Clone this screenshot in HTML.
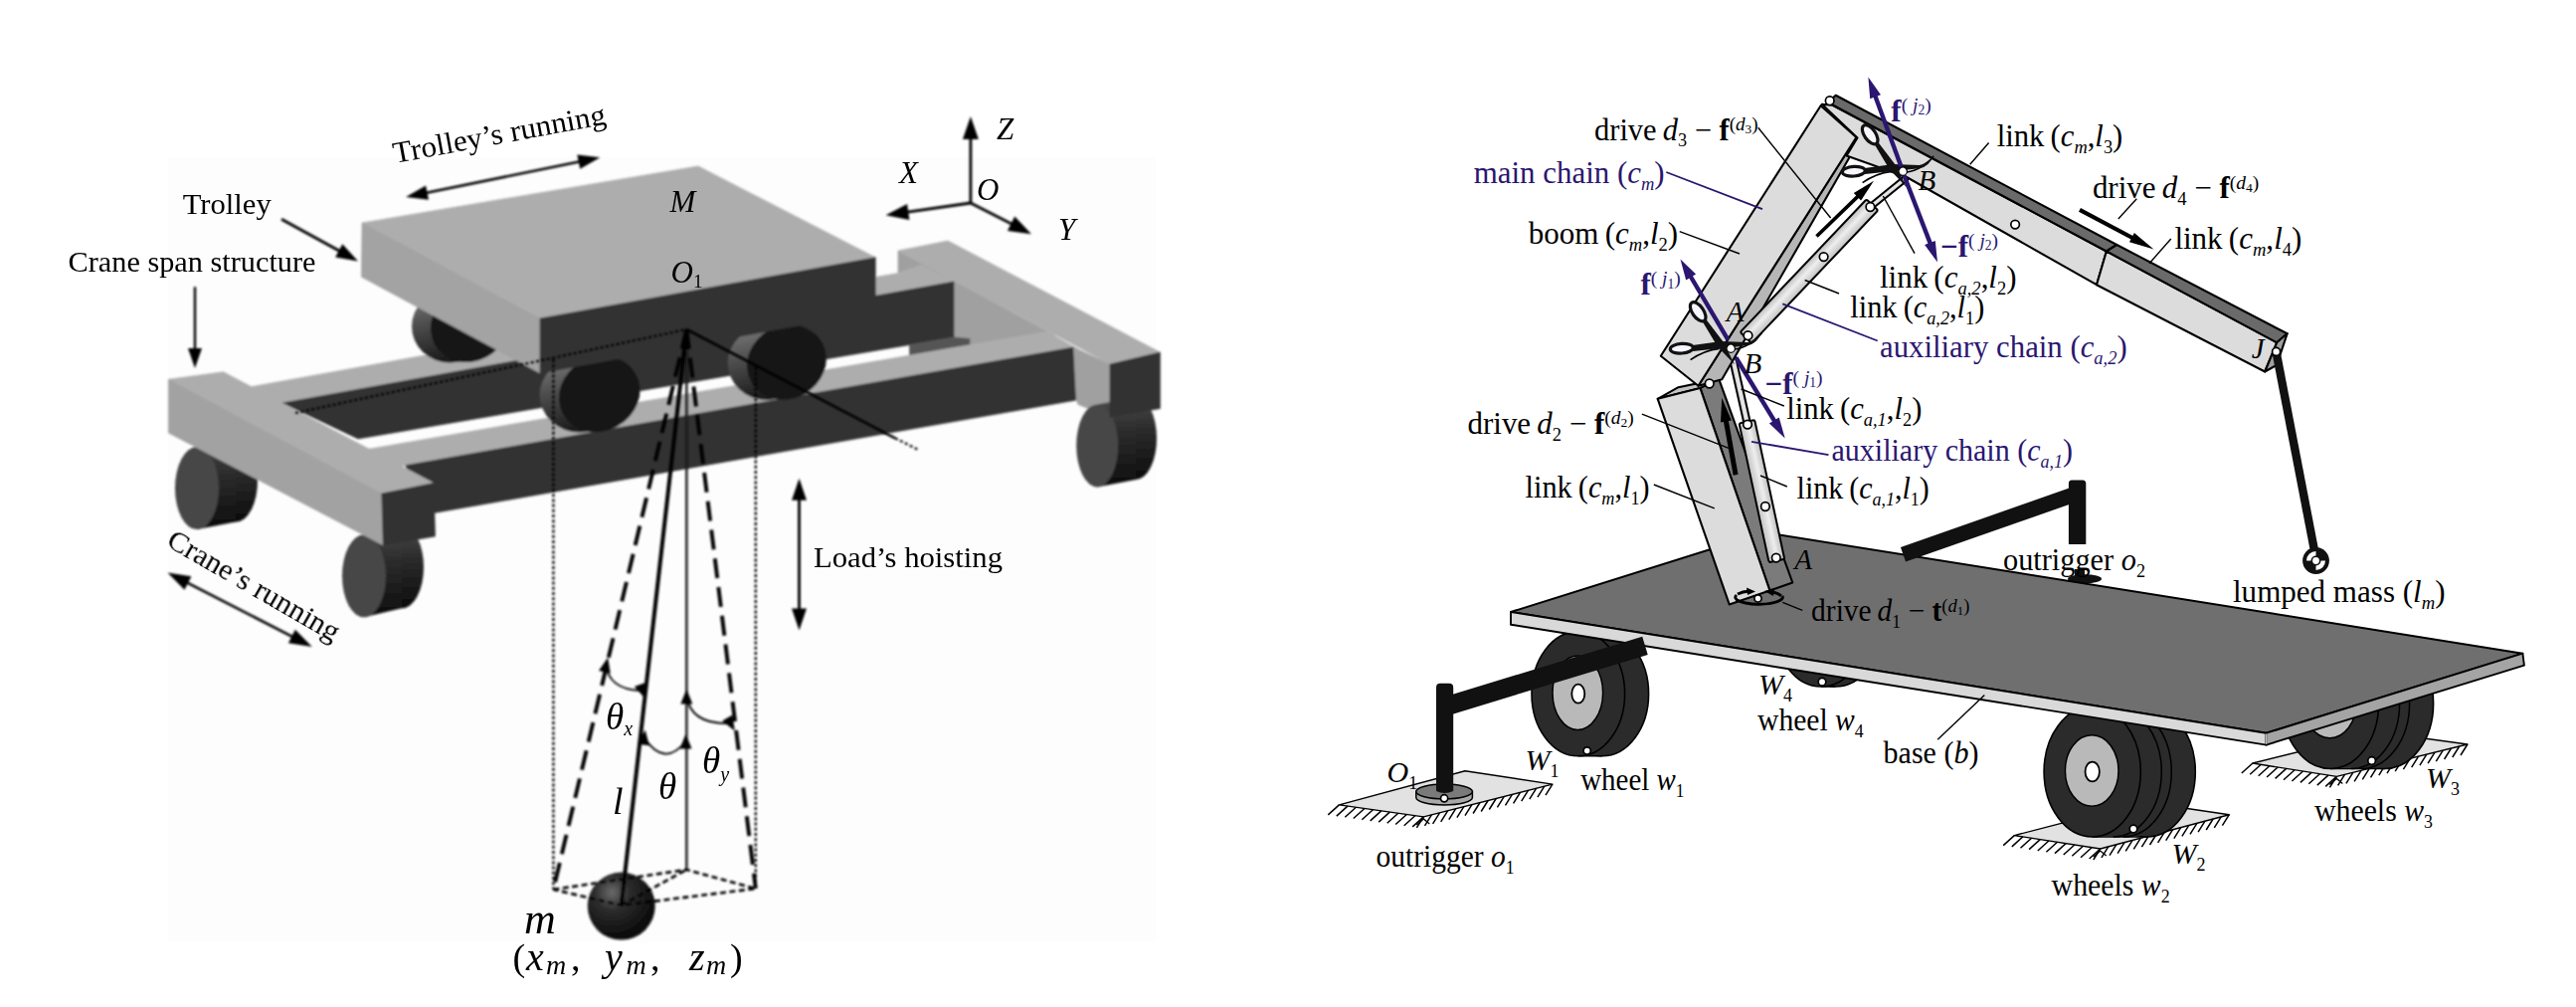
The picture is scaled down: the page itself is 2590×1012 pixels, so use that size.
<!DOCTYPE html>
<html><head><meta charset="utf-8"><title>Crane diagrams</title>
<style>
html,body{margin:0;padding:0;background:#fff;}
body{width:2590px;height:1012px;overflow:hidden;font-family:"Liberation Serif",serif;}
svg{display:block;}
</style></head><body>
<svg width="2590" height="1012" viewBox="0 0 2590 1012">
<defs>
<filter id="soft" x="-5%" y="-5%" width="110%" height="110%"><feGaussianBlur stdDeviation="0.8"/></filter>
<filter id="soft2" x="-5%" y="-5%" width="110%" height="110%"><feGaussianBlur stdDeviation="0.55"/></filter>
<linearGradient id="cyl" x1="0" y1="0" x2="0" y2="1"><stop offset="0" stop-color="#4c4c4c"/><stop offset="0.35" stop-color="#2e2e2e"/><stop offset="1" stop-color="#0c0c0c"/></linearGradient>
<linearGradient id="twb" x1="0" y1="0" x2="0.25" y2="1"><stop offset="0" stop-color="#808080"/><stop offset="0.45" stop-color="#505050"/><stop offset="1" stop-color="#1c1c1c"/></linearGradient>
<radialGradient id="ball" cx="0.36" cy="0.3" r="0.75"><stop offset="0" stop-color="#6a6a6a"/><stop offset="0.35" stop-color="#2c2c2c"/><stop offset="1" stop-color="#050505"/></radialGradient>
<linearGradient id="tubeg" x1="0" y1="0" x2="0" y2="1"><stop offset="0" stop-color="#bdbdbd"/><stop offset="0.45" stop-color="#eeeeee"/><stop offset="1" stop-color="#c2c2c2"/></linearGradient>
</defs>
<rect width="2590" height="1012" fill="#fff"/>
<rect x="169" y="158" width="993" height="789" fill="#fdfdfd"/>
<g id="leftfig" filter="url(#soft)">
<polygon points="903.0,252.0 1060.0,336.5 1060.0,342.0 972.0,356.0 958.7,345.0 958.7,283.0 926.0,266.8 903.0,274.5" fill="#a0a0a0" stroke="#a0a0a0" stroke-width="0.7" />
<polygon points="903.0,252.0 953.0,242.0 1166.4,354.0 1116.0,366.0" fill="#adadad" stroke="#adadad" stroke-width="0.7" />
<polygon points="248.0,389.5 560.0,333.0 560.0,356.0 279.0,406.0" fill="#adadad" stroke="#adadad" stroke-width="0.7" />
<polygon points="880.0,278.5 903.0,274.5 926.0,266.8 958.7,283.0 880.0,297.0" fill="#adadad" stroke="#adadad" stroke-width="0.7" />
<polygon points="284.0,405.0 959.0,283.0 959.0,339.0 360.0,441.0" fill="#333333" stroke="#333333" stroke-width="0.7" />
<polygon points="914.5,346.7 959.0,339.0 975.0,340.5 975.0,346.5 914.5,357.2" fill="#555555" stroke="#555555" stroke-width="0.7" />
<polygon points="365.5,452.2 1053.0,333.2 1084.0,351.0 402.8,468.6" fill="#adadad" stroke="#adadad" stroke-width="0.7" />
<polygon points="407.7,467.7 1079.6,349.0 1082.5,402.0 437.5,515.3 425.0,510.0" fill="#333333" stroke="#333333" stroke-width="0.7" />
<polygon points="1079.6,349.0 1116.0,366.0 1116.0,419.0 1084.0,406.5 1082.3,402.3" fill="#a0a0a0" stroke="#a0a0a0" stroke-width="0.7" />
<ellipse cx="1142" cy="440.4" rx="21" ry="41.5" fill="url(#cyl)"/>
<polygon points="1103.2,406.4 1142.0,398.9 1142.0,481.9 1103.2,489.4" fill="url(#cyl)" />
<ellipse cx="1103.2" cy="447.9" rx="21" ry="41.5" fill="#464646"/>
<polygon points="1116.0,366.0 1166.4,354.0 1166.4,410.6 1116.0,419.0" fill="#333333" stroke="#333333" stroke-width="0.7" />
<ellipse cx="237" cy="483.1" rx="22" ry="41.5" fill="url(#cyl)"/>
<polygon points="198.0,449.1 237.0,441.6 237.0,524.6 198.0,532.1" fill="url(#cyl)" />
<ellipse cx="198" cy="490.6" rx="22" ry="41.5" fill="#464646"/>
<ellipse cx="404" cy="569.8" rx="22" ry="41.5" fill="url(#cyl)"/>
<polygon points="366.0,537.3 404.0,528.3 404.0,611.3 366.0,620.3" fill="url(#cyl)" />
<ellipse cx="366" cy="578.8" rx="22" ry="41.5" fill="#464646"/>
<polygon points="169.4,381.3 224.5,373.8 436.0,485.5 383.8,496.0" fill="#adadad" stroke="#adadad" stroke-width="0.7" />
<polygon points="169.4,381.3 383.8,496.0 385.3,548.0 169.4,435.0" fill="#a2a2a2" stroke="#a2a2a2" stroke-width="0.7" />
<polygon points="383.8,496.0 436.0,485.5 437.5,539.0 385.3,548.0" fill="#333333" stroke="#333333" stroke-width="0.7" />
<ellipse cx="452" cy="328" rx="38" ry="36.5" fill="url(#twb)"/>
<rect x="452" y="292" width="20" height="71.5" fill="#171717"/>
<ellipse cx="472" cy="327" rx="39.8" ry="36.2" transform="rotate(-28 472 327)" fill="#171717"/>
<ellipse cx="582.7" cy="397" rx="40" ry="37.5" fill="url(#twb)"/>
<rect x="582.7" y="360" width="20" height="73.5" fill="#171717"/>
<ellipse cx="602.7" cy="396" rx="41.8" ry="37.2" transform="rotate(-28 602.7 396)" fill="#171717"/>
<ellipse cx="770.9" cy="365" rx="39" ry="37.0" fill="url(#twb)"/>
<rect x="770.9" y="328.5" width="20" height="72.5" fill="#171717"/>
<ellipse cx="790.9" cy="364" rx="40.8" ry="36.7" transform="rotate(-28 790.9 364)" fill="#171717"/>
<polygon points="364.0,224.0 702.0,167.0 880.2,258.7 543.0,320.0" fill="#adadad" stroke="#adadad" stroke-width="0.7" />
<polygon points="364.0,224.0 543.0,320.0 543.0,375.0 363.4,278.3" fill="#a3a3a3" stroke="#a3a3a3" stroke-width="0.7" />
<polygon points="543.0,320.0 880.2,258.7 880.2,313.0 543.0,375.0" fill="#333333" stroke="#333333" stroke-width="0.7" />
</g>
<g id="leftlines" filter="url(#soft)">
<line x1="283.0" y1="220.3" x2="344.6" y2="254.0" stroke="#000" stroke-width="2.8"/><polygon points="360.0,262.5 337.1,258.5 344.3,245.3" fill="#000"/>
<line x1="196.0" y1="288.3" x2="196.0" y2="354.0" stroke="#000" stroke-width="2.4"/><polygon points="196.0,370.0 189.0,350.0 203.0,350.0" fill="#000"/>
<line x1="425.2" y1="194.5" x2="586.1" y2="161.7" stroke="#000" stroke-width="2.6"/><polygon points="603.3,158.2 583.2,169.7 580.3,155.5" fill="#000"/><polygon points="408.0,198.0 431.0,200.7 428.1,186.5" fill="#000"/>
<line x1="184.9" y1="583.9" x2="297.4" y2="641.6" stroke="#000" stroke-width="2.6"/><polygon points="313.8,650.0 289.9,646.2 296.8,632.8" fill="#000"/><polygon points="168.5,575.5 185.5,592.7 192.4,579.3" fill="#000"/>
<line x1="803.5" y1="498.3" x2="803.5" y2="616.0" stroke="#000" stroke-width="2.8"/><polygon points="803.5,633.6 796.0,611.6 811.0,611.6" fill="#000"/><polygon points="803.5,480.7 796.0,502.7 811.0,502.7" fill="#000"/>
<line x1="975.9" y1="204.0" x2="975.9" y2="135.4" stroke="#000" stroke-width="2.8"/><polygon points="975.9,117.0 983.9,140.0 967.9,140.0" fill="#000"/>
<line x1="975.9" y1="204.0" x2="908.7" y2="213.7" stroke="#000" stroke-width="2.8"/><polygon points="890.5,216.3 912.1,205.1 914.4,220.9" fill="#000"/>
<line x1="975.9" y1="204.0" x2="1020.6" y2="226.8" stroke="#000" stroke-width="2.8"/><polygon points="1037.0,235.2 1012.9,231.9 1020.2,217.6" fill="#000"/>
<circle cx="624.7" cy="910.6" r="34" fill="url(#ball)"/>
<line x1="297" y1="415" x2="690.3" y2="331" stroke="#000" stroke-width="2.2" stroke-dasharray="3 2.5"/>
<line x1="690.3" y1="331" x2="900" y2="440.3" stroke="#000" stroke-width="2.6"/>
<line x1="900" y1="440.3" x2="922.6" y2="451.7" stroke="#000" stroke-width="2.2" stroke-dasharray="3 2.5"/>
<line x1="556.4" y1="361" x2="556.4" y2="894" stroke="#000" stroke-width="2.4" stroke-dasharray="3 2.2"/>
<line x1="759.8" y1="369" x2="759.8" y2="893" stroke="#000" stroke-width="2.4" stroke-dasharray="3 2.2"/>
<line x1="690.3" y1="331" x2="690.3" y2="874" stroke="#1a1a1a" stroke-width="2.4"/>
<line x1="690.3" y1="331" x2="624.7" y2="909.8" stroke="#000" stroke-width="4"/>
<line x1="690.3" y1="331" x2="556.4" y2="893.9" stroke="#000" stroke-width="3.9" stroke-dasharray="20 9"/>
<line x1="690.3" y1="331" x2="759.8" y2="893" stroke="#000" stroke-width="3.9" stroke-dasharray="20 9"/>
<path d="M556.4,893.9 L690.3,874 L759.8,893 L624.7,909.8 Z M624.7,909.8 L690.3,874" fill="none" stroke="#000" stroke-width="2.6" stroke-dasharray="6 3.5"/>
<path d="M608.9,667 Q612,693 644,694" fill="none" stroke="#000" stroke-width="1.8"/>
<path d="M647.4,741 Q668,772 689.5,745" fill="none" stroke="#000" stroke-width="1.8"/>
<path d="M690.3,700 Q695,728 733,727" fill="none" stroke="#000" stroke-width="1.8"/>
<polygon points="611.2,660.7 613.7,676.7 602.0,674.0" fill="#000"/>
<polygon points="648.6,702.0 637.8,690.0 649.1,685.9" fill="#000"/>
<polygon points="648.7,733.6 652.8,749.2 640.9,747.7" fill="#000"/>
<polygon points="689.5,737.5 695.5,752.5 683.5,752.5" fill="#000"/>
<polygon points="690.3,692.5 696.3,707.5 684.3,707.5" fill="#000"/>
<polygon points="738.8,734.5 726.1,724.5 736.4,718.5" fill="#000"/>
</g>
<g id="lefttext" font-family="Liberation Serif, serif" fill="#000" filter="url(#soft2)">
<text x="0" y="0" font-size="30" textLength="217" lengthAdjust="spacingAndGlyphs" transform="translate(397,164) rotate(-10.5)">Trolley’s running</text>
<text x="183.7" y="214.8" font-size="30" textLength="89" lengthAdjust="spacingAndGlyphs" >Trolley</text>
<text x="68.5" y="273.4" font-size="30" textLength="249" lengthAdjust="spacingAndGlyphs" >Crane span structure</text>
<text x="0" y="0" font-size="28.5" textLength="195" lengthAdjust="spacingAndGlyphs" transform="translate(166,548) rotate(30)">Crane’s running</text>
<text x="818" y="570" font-size="30" textLength="190" lengthAdjust="spacingAndGlyphs" >Load’s hoisting</text>
<text x="1002" y="140.4" font-size="31" font-style="italic">Z</text>
<text x="904" y="184" font-size="31" font-style="italic">X</text>
<text x="982" y="200.5" font-size="31" font-style="italic">O</text>
<text x="1064" y="241" font-size="31" font-style="italic">Y</text>
<text x="673.5" y="213" font-size="31" font-style="italic">M</text>
<text x="674.5" y="284" font-size="31" font-style="italic">O<tspan font-size="19" dy="5" font-style="normal">1</tspan></text>
<text x="609" y="733" font-size="37" font-style="italic">θ<tspan font-size="20" dy="6">x</tspan></text>
<text x="662" y="802.5" font-size="37" font-style="italic">θ</text>
<text x="706" y="777" font-size="37" font-style="italic">θ<tspan font-size="20" dy="8">y</tspan></text>
<text x="616" y="818" font-size="38" font-style="italic">l</text>
<text x="527" y="937.6" font-size="44" font-style="italic">m</text>
<text x="515.5" y="975" font-size="38" >(</text>
<text x="529" y="975" font-size="40" font-style="italic">x</text>
<text x="549" y="979" font-size="28" font-style="italic">m</text>
<text x="574" y="975" font-size="38" >,</text>
<text x="608" y="975" font-size="40" font-style="italic">y</text>
<text x="629.5" y="979" font-size="28" font-style="italic">m</text>
<text x="654" y="975" font-size="38" >,</text>
<text x="693" y="975" font-size="40" font-style="italic">z</text>
<text x="710" y="979" font-size="28" font-style="italic">m</text>
<text x="734" y="975" font-size="38" >)</text>
</g>
<g id="rightfig">
<polygon points="2264.9,767.0 2391.5,735.7 2480.9,748.0 2349.3,780.4" fill="#e2e2e2" stroke="#000" stroke-width="1.4" stroke-linejoin="round" /><path d="M2264.9,767.0l-11.1,10.0M2273.3,768.3l-11.1,10.0M2281.8,769.7l-11.1,10.0M2290.2,771.0l-11.1,10.0M2298.7,772.4l-11.1,10.0M2307.1,773.7l-11.1,10.0M2315.5,775.0l-11.1,10.0M2324.0,776.4l-11.1,10.0M2332.4,777.7l-11.1,10.0M2340.9,779.1l-11.1,10.0M2349.3,780.4l-11.1,10.0" stroke="#000" stroke-width="1.5" fill="none"/><path d="M2349.3,780.4l-6.9,11.0M2357.5,778.4l-6.9,11.0M2365.8,776.4l-6.9,11.0M2374.0,774.3l-6.9,11.0M2382.2,772.3l-6.9,11.0M2390.4,770.3l-6.9,11.0M2398.7,768.2l-6.9,11.0M2406.9,766.2l-6.9,11.0M2415.1,764.2l-6.9,11.0M2423.3,762.2l-6.9,11.0M2431.6,760.1l-6.9,11.0M2439.8,758.1l-6.9,11.0M2448.0,756.1l-6.9,11.0M2456.2,754.1l-6.9,11.0M2464.5,752.0l-6.9,11.0M2472.7,750.0l-6.9,11.0M2480.9,748.0l-6.9,11.0" stroke="#000" stroke-width="1.5" fill="none"/><path d="M2342.3,788.4 L2349.3,782.4 L2355.3,787.4" stroke="#000" stroke-width="1.3" fill="none"/>
<ellipse cx="2398.0" cy="707.0" rx="48.6" ry="65.5" fill="#2b2b2b" stroke="#000" stroke-width="1.6"/><rect x="2343.0" y="642.1" width="55.0" height="129.8" fill="#2b2b2b"/><path d="M2343.0,641.5 L2398.0,641.5 M2343.0,772.5 L2398.0,772.5" stroke="#000" stroke-width="1.6"/><path d="M2374.0,641.5 A48.6,65.5 0 0 1 2374.0,772.5" fill="none" stroke="#000" stroke-width="1.5"/><path d="M2364.0,641.5 A48.6,65.5 0 0 1 2364.0,772.5" fill="none" stroke="#000" stroke-width="1.5"/><ellipse cx="2343.0" cy="707.0" rx="48.6" ry="65.5" fill="#2b2b2b" stroke="#000" stroke-width="1.6"/><ellipse cx="2342.5" cy="706.0" rx="26.8" ry="35.7" fill="#b9b9b9" stroke="#000" stroke-width="1.5"/><ellipse cx="2343.0" cy="707.0" rx="7.2" ry="9.8" fill="#fff" stroke="#000" stroke-width="1.8"/>
<circle cx="2384.6" cy="764.5" r="3.8" fill="#fff" stroke="#000" stroke-width="1.7"/>
<polygon points="2025.3,839.6 2155.0,806.0 2241.3,818.7 2111.7,853.0" fill="#e2e2e2" stroke="#000" stroke-width="1.4" stroke-linejoin="round" /><path d="M2025.3,839.6l-11.1,10.0M2033.9,840.9l-11.1,10.0M2042.6,842.3l-11.1,10.0M2051.2,843.6l-11.1,10.0M2059.9,845.0l-11.1,10.0M2068.5,846.3l-11.1,10.0M2077.1,847.6l-11.1,10.0M2085.8,849.0l-11.1,10.0M2094.4,850.3l-11.1,10.0M2103.1,851.7l-11.1,10.0M2111.7,853.0l-11.1,10.0" stroke="#000" stroke-width="1.5" fill="none"/><path d="M2111.7,853.0l-6.9,11.0M2119.8,850.9l-6.9,11.0M2127.9,848.7l-6.9,11.0M2136.0,846.6l-6.9,11.0M2144.1,844.4l-6.9,11.0M2152.2,842.3l-6.9,11.0M2160.3,840.1l-6.9,11.0M2168.4,838.0l-6.9,11.0M2176.5,835.9l-6.9,11.0M2184.6,833.7l-6.9,11.0M2192.7,831.6l-6.9,11.0M2200.8,829.4l-6.9,11.0M2208.9,827.3l-6.9,11.0M2217.0,825.1l-6.9,11.0M2225.1,823.0l-6.9,11.0M2233.2,820.8l-6.9,11.0M2241.3,818.7l-6.9,11.0" stroke="#000" stroke-width="1.5" fill="none"/><path d="M2104.7,861.0 L2111.7,855.0 L2117.7,860.0" stroke="#000" stroke-width="1.3" fill="none"/>
<ellipse cx="2158.7" cy="775.5" rx="48.6" ry="65.5" fill="#2b2b2b" stroke="#000" stroke-width="1.6"/><rect x="2103.7" y="710.6" width="55.0" height="129.8" fill="#2b2b2b"/><path d="M2103.7,710.0 L2158.7,710.0 M2103.7,841.0 L2158.7,841.0" stroke="#000" stroke-width="1.6"/><path d="M2134.7,710.0 A48.6,65.5 0 0 1 2134.7,841.0" fill="none" stroke="#000" stroke-width="1.5"/><path d="M2124.7,710.0 A48.6,65.5 0 0 1 2124.7,841.0" fill="none" stroke="#000" stroke-width="1.5"/><ellipse cx="2103.7" cy="775.5" rx="48.6" ry="65.5" fill="#2b2b2b" stroke="#000" stroke-width="1.6"/><ellipse cx="2103.2" cy="774.5" rx="26.8" ry="35.7" fill="#b9b9b9" stroke="#000" stroke-width="1.5"/><ellipse cx="2103.7" cy="775.5" rx="7.2" ry="9.8" fill="#fff" stroke="#000" stroke-width="1.8"/>
<circle cx="2145.0" cy="833.0" r="3.8" fill="#fff" stroke="#000" stroke-width="1.7"/>
<ellipse cx="1845.5" cy="630.0" rx="46" ry="60" fill="#2b2b2b" stroke="#000" stroke-width="1.6"/><rect x="1831.0" y="570.6" width="14.5" height="118.8" fill="#2b2b2b"/><path d="M1831.0,570.0 L1845.5,570.0 M1831.0,690.0 L1845.5,690.0" stroke="#000" stroke-width="1.6"/><ellipse cx="1831.0" cy="630.0" rx="46" ry="60" fill="#2b2b2b" stroke="#000" stroke-width="1.6"/><ellipse cx="1830.5" cy="629.0" rx="22" ry="32" fill="#b9b9b9" stroke="#000" stroke-width="1.5"/><ellipse cx="1831.0" cy="630.0" rx="6" ry="8" fill="#fff" stroke="#000" stroke-width="1.8"/>
<circle cx="1832.0" cy="685.2" r="3.8" fill="#fff" stroke="#000" stroke-width="1.7"/>
<ellipse cx="1610.8" cy="697.2" rx="46.8" ry="62.6" fill="#2b2b2b" stroke="#000" stroke-width="1.6"/><rect x="1586.8" y="635.2" width="24.0" height="124.0" fill="#2b2b2b"/><path d="M1586.8,634.6 L1610.8,634.6 M1586.8,759.8 L1610.8,759.8" stroke="#000" stroke-width="1.6"/><ellipse cx="1586.8" cy="697.2" rx="46.8" ry="62.6" fill="#2b2b2b" stroke="#000" stroke-width="1.6"/><ellipse cx="1586.3" cy="696.2" rx="25.3" ry="37.2" fill="#b9b9b9" stroke="#000" stroke-width="1.5"/><ellipse cx="1586.8" cy="697.2" rx="6.5" ry="9.5" fill="#fff" stroke="#000" stroke-width="1.8"/>
<circle cx="1595.7" cy="754.4" r="3.6" fill="#fff" stroke="#000" stroke-width="1.7"/>
<ellipse cx="2096" cy="581.8" rx="17" ry="4.5" fill="#111"/>
<rect x="2086" y="572" width="10" height="10" fill="#111"/>
<path d="M2079.9,547 L2079.9,486 Q2079.9,482.5 2083,482.5 L2094,482.5 Q2097.3,482.5 2097.3,486 L2097.3,547 Z" fill="#111"/>
<polygon points="1519.0,615.0 1774.0,535.0 2536.4,656.7 2278.6,736.7" fill="#6f6f6f" stroke="#000" stroke-width="2" stroke-linejoin="round" />
<polygon points="1519.0,615.0 2278.6,736.7 2278.6,748.6 1519.0,627.7" fill="#d9d9d9" stroke="#000" stroke-width="1.9" stroke-linejoin="round" />
<polygon points="2278.6,736.7 2536.4,656.7 2537.9,668.6 2278.6,748.6" fill="#a4a4a4" stroke="#000" stroke-width="1.9" stroke-linejoin="round" />
<line x1="2278.6" y1="737.5" x2="2278.6" y2="747.8" stroke="#c0c0c0" stroke-width="1.8"/>
<line x1="1913.5" y1="557.2" x2="2090" y2="495.4" stroke="#111" stroke-width="15.5"/>
<polygon points="1346.4,808.9 1473.0,774.7 1560.9,788.1 1431.3,820.9" fill="#e2e2e2" stroke="#000" stroke-width="1.4" stroke-linejoin="round" /><path d="M1346.4,808.9l-11.1,10.0M1354.9,810.1l-11.1,10.0M1363.4,811.3l-11.1,10.0M1371.9,812.5l-11.1,10.0M1380.4,813.7l-11.1,10.0M1388.8,814.9l-11.1,10.0M1397.3,816.1l-11.1,10.0M1405.8,817.3l-11.1,10.0M1414.3,818.5l-11.1,10.0M1422.8,819.7l-11.1,10.0M1431.3,820.9l-11.1,10.0" stroke="#000" stroke-width="1.5" fill="none"/><path d="M1431.3,820.9l-6.9,11.0M1439.4,818.9l-6.9,11.0M1447.5,816.8l-6.9,11.0M1455.6,814.8l-6.9,11.0M1463.7,812.7l-6.9,11.0M1471.8,810.6l-6.9,11.0M1479.9,808.6l-6.9,11.0M1488.0,806.5l-6.9,11.0M1496.1,804.5l-6.9,11.0M1504.2,802.5l-6.9,11.0M1512.3,800.4l-6.9,11.0M1520.4,798.4l-6.9,11.0M1528.5,796.3l-6.9,11.0M1536.6,794.2l-6.9,11.0M1544.7,792.2l-6.9,11.0M1552.8,790.1l-6.9,11.0M1560.9,788.1l-6.9,11.0" stroke="#000" stroke-width="1.5" fill="none"/><path d="M1424.3,828.9 L1431.3,822.9 L1437.3,827.9" stroke="#000" stroke-width="1.3" fill="none"/>
<path d="M1423.8,795.5 L1423.8,801.5 A28.3,7.4 0 0 0 1480.4,801.5 L1480.4,795.5 Z" fill="#a8a8a8" stroke="#000" stroke-width="1.5"/>
<ellipse cx="1452.1" cy="795.5" rx="28.3" ry="7.4" fill="#7a7a7a" stroke="#000" stroke-width="1.5"/>
<path d="M1444,795 L1444,691 Q1444,686.8 1448,686.8 L1457,686.8 Q1461.2,686.8 1461.2,691 L1461.2,795 Q1452.6,799 1444,795 Z" fill="#111"/>
<line x1="1457" y1="708.8" x2="1654" y2="648.8" stroke="#111" stroke-width="19"/>
<circle cx="1452.1" cy="802.3" r="3.6" fill="#fff" stroke="#000" stroke-width="1.7"/>
<polygon points="1709.4,389.9 1728.2,380.9 1802.3,585.5 1779.4,593.5" fill="#7b7b7b" stroke="#000" stroke-width="2.1" stroke-linejoin="round" />
<polygon points="1666.7,400.8 1687.5,389.2 1728.2,380.9 1709.4,389.9" fill="#c4c4c4" stroke="#000" stroke-width="2.1" stroke-linejoin="round" />
<polygon points="1666.7,400.8 1709.4,389.9 1779.4,593.5 1738.7,607.4" fill="#dcdcdc" stroke="#000" stroke-width="2.1" stroke-linejoin="round" />
<path d="M1746,598 A23.8,7 0 1 0 1792,599" fill="none" stroke="#000" stroke-width="2.9"/>
<path d="M1747,597 Q1752,594.5 1759,594" fill="none" stroke="#000" stroke-width="2.9"/><polygon points="1765,594.5 1756,590.5 1757,598" fill="#000"/>
<path d="M1791,599 Q1788,596 1782,595" fill="none" stroke="#000" stroke-width="2.9"/><polygon points="1774,594 1784,591 1783,599" fill="#000"/>
<circle cx="1767.5" cy="601.4" r="3.6" fill="#fff" stroke="#000" stroke-width="1.7"/>
<g transform="translate(1757.0,426.6) rotate(77.87)"><rect x="-3" y="-8.0" width="143.1" height="16" rx="2" fill="url(#tubeg)" stroke="#000" stroke-width="2"/></g>
<g transform="translate(1740.2,351.5) rotate(77.39)"><rect x="-3" y="-3.25" width="83.0" height="6.5" rx="2" fill="url(#tubeg)" stroke="#000" stroke-width="2"/></g>
<circle cx="1757.0" cy="426.6" r="4.3" fill="#fff" stroke="#000" stroke-width="1.7"/>
<circle cx="1774.9" cy="509.0" r="4.3" fill="#fff" stroke="#000" stroke-width="1.7"/>
<circle cx="1785.8" cy="560.6" r="4.3" fill="#fff" stroke="#000" stroke-width="1.7"/>
<polygon points="1866.4,138.0 1859.0,159.0 1731.3,381.3 1707.5,387.8" fill="#b6b6b6" stroke="#000" stroke-width="2.1" stroke-linejoin="round" />
<polygon points="1830.6,106.2 1866.4,138.0 1707.5,387.8 1669.8,357.7" fill="#dcdcdc" stroke="#000" stroke-width="2.1" stroke-linejoin="round" />
<circle cx="1718.7" cy="385.5" r="4.3" fill="#fff" stroke="#000" stroke-width="1.7"/>
<g transform="translate(1757.5,337.2) rotate(-46.43)"><rect x="-3" y="-8.0" width="184.3" height="16" rx="2" fill="url(#tubeg)" stroke="#000" stroke-width="2"/></g>
<g transform="translate(1880.4,208.0) rotate(-38.98)"><rect x="-3" y="-2.75" width="50.5" height="5.5" rx="2" fill="url(#tubeg)" stroke="#000" stroke-width="2"/></g>
<circle cx="1757.5" cy="337.2" r="4.3" fill="#fff" stroke="#000" stroke-width="1.7"/>
<circle cx="1833.6" cy="258.1" r="4.3" fill="#fff" stroke="#000" stroke-width="1.7"/>
<circle cx="1880.4" cy="208.0" r="4.3" fill="#fff" stroke="#000" stroke-width="1.7"/>
<polygon points="1831.8,104.7 1842.7,105.7 2117.9,252.5 2108.0,286.2 1917.0,178.0 1856.6,156.4 1867.5,138.5" fill="#dcdcdc" stroke="#000" stroke-width="2.1" stroke-linejoin="round" />
<polygon points="1845.7,95.8 2128.3,246.0 2117.9,252.5 1838.0,103.0" fill="#6a6a6a" stroke="#000" stroke-width="2.1" stroke-linejoin="round" />
<polygon points="2117.9,252.5 2289.2,344.3 2277.2,373.5 2108.0,286.2" fill="#dcdcdc" stroke="#000" stroke-width="2.1" stroke-linejoin="round" />
<polygon points="2128.3,246.0 2299.6,335.3 2289.2,344.3 2117.9,252.5" fill="#6a6a6a" stroke="#000" stroke-width="2.1" stroke-linejoin="round" />
<polygon points="2289.2,344.3 2299.6,335.3 2289.0,367.0 2277.2,373.5" fill="#a0a0a0" stroke="#000" stroke-width="2.1" stroke-linejoin="round" />
<circle cx="1839.7" cy="101.2" r="4.3" fill="#fff" stroke="#000" stroke-width="1.7"/>
<circle cx="2026.1" cy="225.6" r="4.3" fill="#fff" stroke="#000" stroke-width="1.7"/>
<line x1="2289" y1="356" x2="2327.9" y2="558" stroke="#111" stroke-width="8.4"/>
<circle cx="2288.6" cy="353.4" r="4" fill="#fff" stroke="#000" stroke-width="1.7"/>
<circle cx="2328.5" cy="563.5" r="13.4" fill="#111"/>
<path d="M2328.5,563.5 L2328.5,554 A9.5,9.5 0 0 0 2319,563.5 Z M2328.5,563.5 L2328.5,573 A9.5,9.5 0 0 0 2338,563.5 Z" fill="#fff"/>
<circle cx="2328.5" cy="563.5" r="4.2" fill="#fff" stroke="#111" stroke-width="1.6"/>
</g>
<g id="rightann">
<g transform="translate(1903.6,168.6)"><path d="M-31,15 Q-17,5.5 -2,3.8" fill="none" stroke="#000" stroke-width="1.6"/><path d="M2,4.8 Q25,7 40.5,-11.5" fill="none" stroke="#000" stroke-width="1.6"/><polygon points="-18.8,-23.3 -15.2,-25.6 1.6,-3.6 13.6,19.8 -3.8,1.6" fill="#111"/><path d="M-29,0.3 L0,-3.6 L26,-2.6 Q35,-4.5 40.7,-12.8 Q36,-0.5 26,0.6 L0,3.4 L-28.5,6.5 Z" fill="#111"/><ellipse cx="-23.4" cy="-33.3" rx="11" ry="5.6" transform="rotate(55 -23.4 -33.3)" fill="#f6f6ff" stroke="#111" stroke-width="3.2"/><ellipse cx="-39.8" cy="3.6" rx="11.5" ry="4.8" transform="rotate(-4 -39.8 3.6)" fill="#f6f6ff" stroke="#111" stroke-width="3.2"/><circle cx="9.6" cy="3.6" r="4.2" fill="#fff" stroke="#000" stroke-width="1.2"/></g>
<g transform="translate(1730.6,346.6)"><path d="M-31,15 Q-17,5.5 -2,3.8" fill="none" stroke="#000" stroke-width="1.6"/><path d="M2,4.8 Q25,7 40.5,-11.5" fill="none" stroke="#000" stroke-width="1.6"/><polygon points="-18.8,-23.3 -15.2,-25.6 1.6,-3.6 13.6,19.8 -3.8,1.6" fill="#111"/><path d="M-29,0.3 L0,-3.6 L26,-2.6 Q35,-4.5 40.7,-12.8 Q36,-0.5 26,0.6 L0,3.4 L-28.5,6.5 Z" fill="#111"/><ellipse cx="-23.4" cy="-33.3" rx="11" ry="5.6" transform="rotate(55 -23.4 -33.3)" fill="#f6f6ff" stroke="#111" stroke-width="3.2"/><ellipse cx="-39.8" cy="3.6" rx="11.5" ry="4.8" transform="rotate(-4 -39.8 3.6)" fill="#f6f6ff" stroke="#111" stroke-width="3.2"/><circle cx="9.6" cy="3.6" r="4.2" fill="#fff" stroke="#000" stroke-width="1.2"/></g>
<line x1="1911.5" y1="167.6" x2="1884.2" y2="93.3" stroke="#2b1670" stroke-width="4.4"/><polygon points="1878.4,77.5 1891.0,95.2 1880.2,99.2" fill="#2b1670"/>
<line x1="1914.5" y1="176.5" x2="1942.0" y2="247.9" stroke="#2b1670" stroke-width="4.4"/><polygon points="1948.0,263.6 1935.1,246.1 1945.8,241.9" fill="#2b1670"/>
<line x1="1737.5" y1="341.6" x2="1698.1" y2="275.0" stroke="#2b1670" stroke-width="4.4"/><polygon points="1689.5,260.5 1705.1,275.6 1695.2,281.5" fill="#2b1670"/>
<line x1="1745.5" y1="359.5" x2="1786.0" y2="426.1" stroke="#2b1670" stroke-width="4.4"/><polygon points="1794.7,440.5 1778.9,425.5 1788.7,419.6" fill="#2b1670"/>
<line x1="1826.5" y1="237.5" x2="1870.8" y2="194.6" stroke="#000" stroke-width="3.6"/><polygon points="1884.0,181.8 1871.1,201.6 1863.8,194.0" fill="#000"/>
<line x1="1745.1" y1="477.2" x2="1734.6" y2="418.7" stroke="#000" stroke-width="5"/><polygon points="1731.2,399.8 1740.9,422.4 1730.0,424.4" fill="#000"/>
<line x1="2091.0" y1="210.8" x2="2147.8" y2="241.0" stroke="#000" stroke-width="4.2"/><polygon points="2165.5,250.4 2141.0,243.3 2145.9,234.0" fill="#000"/>
<line x1="1767.7" y1="128.3" x2="1840.6" y2="219" stroke="#000" stroke-width="1.4"/>
<line x1="1688.7" y1="232.6" x2="1749" y2="255" stroke="#000" stroke-width="1.4"/>
<line x1="1650.9" y1="416.1" x2="1738" y2="450.4" stroke="#000" stroke-width="1.4"/>
<line x1="1662.8" y1="487" x2="1723.8" y2="510.9" stroke="#000" stroke-width="1.4"/>
<line x1="1750.6" y1="391" x2="1793.8" y2="408" stroke="#000" stroke-width="1.4"/>
<line x1="1770" y1="478" x2="1796.8" y2="489" stroke="#000" stroke-width="1.4"/>
<line x1="1814.7" y1="281.5" x2="1849" y2="295" stroke="#000" stroke-width="1.4"/>
<line x1="1893.3" y1="197" x2="1925" y2="254.7" stroke="#000" stroke-width="1.4"/>
<line x1="1999.6" y1="143.5" x2="1980.7" y2="165.3" stroke="#000" stroke-width="1.4"/>
<line x1="2148.3" y1="199.8" x2="2129.8" y2="220" stroke="#000" stroke-width="1.4"/>
<line x1="2182.8" y1="240" x2="2161" y2="264.7" stroke="#000" stroke-width="1.4"/>
<line x1="1792.3" y1="605.4" x2="1812.2" y2="613.3" stroke="#000" stroke-width="1.4"/>
<line x1="1948.2" y1="743.2" x2="1995.3" y2="698.5" stroke="#000" stroke-width="1.4"/>
<line x1="1675.3" y1="173" x2="1772" y2="210.2" stroke="#2b1670" stroke-width="1.8"/>
<line x1="1761" y1="443.8" x2="1838.5" y2="457.2" stroke="#2b1670" stroke-width="1.8"/>
<line x1="1792.3" y1="305.3" x2="1887.7" y2="342.5" stroke="#2b1670" stroke-width="1.8"/>
</g>
<g id="righttext" font-family="Liberation Serif, serif" fill="#000" transform="translate(0,1)">
<text x="1603" y="139.6" font-size="30.5" textLength="164.7" lengthAdjust="spacingAndGlyphs"><tspan>drive </tspan><tspan font-style="italic">d</tspan><tspan dy="6.7" font-size="18.3">3</tspan><tspan dy="-6.7"> − </tspan><tspan font-weight="bold">f</tspan><tspan dy="-9.5" font-size="19.2">(</tspan><tspan font-size="19.2" font-style="italic">d</tspan><tspan dy="3.1" font-size="13.4">3</tspan><tspan dy="-3.1" font-size="19.2">)</tspan></text>
<text x="1481.7" y="182.8" font-size="30.5" textLength="192.0" lengthAdjust="spacingAndGlyphs" fill="#2b1670"><tspan>main chain (</tspan><tspan font-style="italic">c</tspan><tspan dy="6.7" font-size="18.3" font-style="italic">m</tspan><tspan dy="-6.7">)</tspan></text>
<text x="1536.8" y="243.9" font-size="30.5" textLength="150.4" lengthAdjust="spacingAndGlyphs"><tspan>boom </tspan><tspan>(</tspan><tspan font-style="italic">c</tspan><tspan dy="6.7" font-size="18.3" font-style="italic">m</tspan><tspan dy="-6.7">,</tspan><tspan font-style="italic">l</tspan><tspan dy="6.7" font-size="18.3">2</tspan><tspan dy="-6.7">)</tspan></text>
<text x="1475.5" y="434.8" font-size="30.5" textLength="167.3" lengthAdjust="spacingAndGlyphs"><tspan>drive </tspan><tspan font-style="italic">d</tspan><tspan dy="6.7" font-size="18.3">2</tspan><tspan dy="-6.7"> − </tspan><tspan font-weight="bold">f</tspan><tspan dy="-9.5" font-size="19.2">(</tspan><tspan font-size="19.2" font-style="italic">d</tspan><tspan dy="3.1" font-size="13.4">2</tspan><tspan dy="-3.1" font-size="19.2">)</tspan></text>
<text x="1533.6" y="499.4" font-size="30.5" textLength="125.0" lengthAdjust="spacingAndGlyphs"><tspan>link </tspan><tspan>(</tspan><tspan font-style="italic">c</tspan><tspan dy="6.7" font-size="18.3" font-style="italic">m</tspan><tspan dy="-6.7">,</tspan><tspan font-style="italic">l</tspan><tspan dy="6.7" font-size="18.3">1</tspan><tspan dy="-6.7">)</tspan></text>
<text x="2007.7" y="146.2" font-size="30.5" textLength="126.6" lengthAdjust="spacingAndGlyphs"><tspan>link </tspan><tspan>(</tspan><tspan font-style="italic">c</tspan><tspan dy="6.7" font-size="18.3" font-style="italic">m</tspan><tspan dy="-6.7">,</tspan><tspan font-style="italic">l</tspan><tspan dy="6.7" font-size="18.3">3</tspan><tspan dy="-6.7">)</tspan></text>
<text x="2103.9" y="198.3" font-size="30.5" textLength="167.4" lengthAdjust="spacingAndGlyphs"><tspan>drive </tspan><tspan font-style="italic">d</tspan><tspan dy="6.7" font-size="18.3">4</tspan><tspan dy="-6.7"> − </tspan><tspan font-weight="bold">f</tspan><tspan dy="-9.5" font-size="19.2">(</tspan><tspan font-size="19.2" font-style="italic">d</tspan><tspan dy="3.1" font-size="13.4">4</tspan><tspan dy="-3.1" font-size="19.2">)</tspan></text>
<text x="2186.4" y="249" font-size="30.5" textLength="128.0" lengthAdjust="spacingAndGlyphs"><tspan>link </tspan><tspan>(</tspan><tspan font-style="italic">c</tspan><tspan dy="6.7" font-size="18.3" font-style="italic">m</tspan><tspan dy="-6.7">,</tspan><tspan font-style="italic">l</tspan><tspan dy="6.7" font-size="18.3">4</tspan><tspan dy="-6.7">)</tspan></text>
<text x="1890" y="288.3" font-size="30.5" textLength="137.6" lengthAdjust="spacingAndGlyphs"><tspan>link </tspan><tspan>(</tspan><tspan font-style="italic">c</tspan><tspan dy="6.7" font-size="18.3" font-style="italic">a,2</tspan><tspan dy="-6.7">,</tspan><tspan font-style="italic">l</tspan><tspan dy="6.7" font-size="18.3">2</tspan><tspan dy="-6.7">)</tspan></text>
<text x="1860.3" y="318" font-size="30.5" textLength="135.0" lengthAdjust="spacingAndGlyphs"><tspan>link </tspan><tspan>(</tspan><tspan font-style="italic">c</tspan><tspan dy="6.7" font-size="18.3" font-style="italic">a,2</tspan><tspan dy="-6.7">,</tspan><tspan font-style="italic">l</tspan><tspan dy="6.7" font-size="18.3">1</tspan><tspan dy="-6.7">)</tspan></text>
<text x="1890" y="357.8" font-size="30.5" textLength="248.7" lengthAdjust="spacingAndGlyphs" fill="#2b1670"><tspan>auxiliary chain (</tspan><tspan font-style="italic">c</tspan><tspan dy="6.7" font-size="18.3" font-style="italic">a,2</tspan><tspan dy="-6.7">)</tspan></text>
<text x="1796.2" y="420" font-size="30.5" textLength="136.2" lengthAdjust="spacingAndGlyphs"><tspan>link </tspan><tspan>(</tspan><tspan font-style="italic">c</tspan><tspan dy="6.7" font-size="18.3" font-style="italic">a,1</tspan><tspan dy="-6.7">,</tspan><tspan font-style="italic">l</tspan><tspan dy="6.7" font-size="18.3">2</tspan><tspan dy="-6.7">)</tspan></text>
<text x="1841.5" y="462.3" font-size="30.5" textLength="242.5" lengthAdjust="spacingAndGlyphs" fill="#2b1670"><tspan>auxiliary chain (</tspan><tspan font-style="italic">c</tspan><tspan dy="6.7" font-size="18.3" font-style="italic">a,1</tspan><tspan dy="-6.7">)</tspan></text>
<text x="1806.6" y="499.8" font-size="30.5" textLength="133.2" lengthAdjust="spacingAndGlyphs"><tspan>link </tspan><tspan>(</tspan><tspan font-style="italic">c</tspan><tspan dy="6.7" font-size="18.3" font-style="italic">a,1</tspan><tspan dy="-6.7">,</tspan><tspan font-style="italic">l</tspan><tspan dy="6.7" font-size="18.3">1</tspan><tspan dy="-6.7">)</tspan></text>
<text x="1821.1" y="623" font-size="30.5" textLength="159.3" lengthAdjust="spacingAndGlyphs"><tspan>drive </tspan><tspan font-style="italic">d</tspan><tspan dy="6.7" font-size="18.3">1</tspan><tspan dy="-6.7"> − </tspan><tspan font-weight="bold">t</tspan><tspan dy="-9.5" font-size="19.2">(</tspan><tspan font-size="19.2" font-style="italic">d</tspan><tspan dy="3.1" font-size="13.4">1</tspan><tspan dy="-3.1" font-size="19.2">)</tspan></text>
<text x="2014" y="571.9" font-size="30.5" textLength="143.0" lengthAdjust="spacingAndGlyphs"><tspan>outrigger </tspan><tspan font-style="italic">o</tspan><tspan dy="6.7" font-size="18.3">2</tspan></text>
<text x="2245" y="604" font-size="30.5" textLength="213.5" lengthAdjust="spacingAndGlyphs"><tspan>lumped mass (</tspan><tspan font-style="italic">l</tspan><tspan dy="6.7" font-size="18.3" font-style="italic">m</tspan><tspan dy="-6.7">)</tspan></text>
<text x="1767" y="733.2" font-size="30.5" textLength="106.7" lengthAdjust="spacingAndGlyphs"><tspan>wheel </tspan><tspan font-style="italic">w</tspan><tspan dy="6.7" font-size="18.3">4</tspan></text>
<text x="1893.6" y="765.5" font-size="30.5" textLength="95.8" lengthAdjust="spacingAndGlyphs"><tspan>base (</tspan><tspan font-style="italic">b</tspan><tspan>)</tspan></text>
<text x="1589.2" y="792.8" font-size="30.5" textLength="104.3" lengthAdjust="spacingAndGlyphs"><tspan>wheel </tspan><tspan font-style="italic">w</tspan><tspan dy="6.7" font-size="18.3">1</tspan></text>
<text x="1383.6" y="869.8" font-size="30.5" textLength="139.0" lengthAdjust="spacingAndGlyphs"><tspan>outrigger </tspan><tspan font-style="italic">o</tspan><tspan dy="6.7" font-size="18.3">1</tspan></text>
<text x="2062.6" y="899.2" font-size="30.5" textLength="119.1" lengthAdjust="spacingAndGlyphs"><tspan>wheels </tspan><tspan font-style="italic">w</tspan><tspan dy="6.7" font-size="18.3">2</tspan></text>
<text x="2327" y="824" font-size="30.5" textLength="119.0" lengthAdjust="spacingAndGlyphs"><tspan>wheels </tspan><tspan font-style="italic">w</tspan><tspan dy="6.7" font-size="18.3">3</tspan></text>
<text x="1735.8" y="321.7" font-size="29"><tspan font-style="italic">A</tspan></text>
<text x="1753.6" y="373.8" font-size="29"><tspan font-style="italic">B</tspan></text>
<text x="1928.5" y="190" font-size="29"><tspan font-style="italic">B</tspan></text>
<text x="1804.2" y="571" font-size="29"><tspan font-style="italic">A</tspan></text>
<text x="2263.8" y="359" font-size="29"><tspan font-style="italic">J</tspan></text>
<text x="1768" y="697" font-size="30"><tspan font-style="italic">W</tspan><tspan dy="6.6" font-size="18.0">4</tspan></text>
<text x="1394.5" y="785" font-size="30"><tspan font-style="italic">O</tspan><tspan dy="6.6" font-size="18.0">1</tspan></text>
<text x="1533.6" y="773" font-size="30"><tspan font-style="italic">W</tspan><tspan dy="6.6" font-size="18.0">1</tspan></text>
<text x="2183.5" y="867" font-size="30"><tspan font-style="italic">W</tspan><tspan dy="6.6" font-size="18.0">2</tspan></text>
<text x="2439" y="791" font-size="30"><tspan font-style="italic">W</tspan><tspan dy="6.6" font-size="18.0">3</tspan></text>
<text x="1901.3" y="120.6" font-size="31" fill="#2b1670"><tspan font-weight="bold">f</tspan><tspan dy="-9.6" font-size="19.5">(</tspan><tspan font-size="19.5" font-style="italic"> j</tspan><tspan dy="3.1" font-size="13.6">2</tspan><tspan dy="-3.1" font-size="19.5">)</tspan></text>
<text x="1951" y="256.7" font-size="31" fill="#2b1670"><tspan font-weight="bold">−f</tspan><tspan dy="-9.6" font-size="19.5">(</tspan><tspan font-size="19.5" font-style="italic"> j</tspan><tspan dy="3.1" font-size="13.6">2</tspan><tspan dy="-3.1" font-size="19.5">)</tspan></text>
<text x="1649.4" y="295" font-size="31" fill="#2b1670"><tspan font-weight="bold">f</tspan><tspan dy="-9.6" font-size="19.5">(</tspan><tspan font-size="19.5" font-style="italic"> j</tspan><tspan dy="3.1" font-size="13.6">1</tspan><tspan dy="-3.1" font-size="19.5">)</tspan></text>
<text x="1774.5" y="394.7" font-size="31" fill="#2b1670"><tspan font-weight="bold">−f</tspan><tspan dy="-9.6" font-size="19.5">(</tspan><tspan font-size="19.5" font-style="italic"> j</tspan><tspan dy="3.1" font-size="13.6">1</tspan><tspan dy="-3.1" font-size="19.5">)</tspan></text>
</g>
</svg>
</body></html>
